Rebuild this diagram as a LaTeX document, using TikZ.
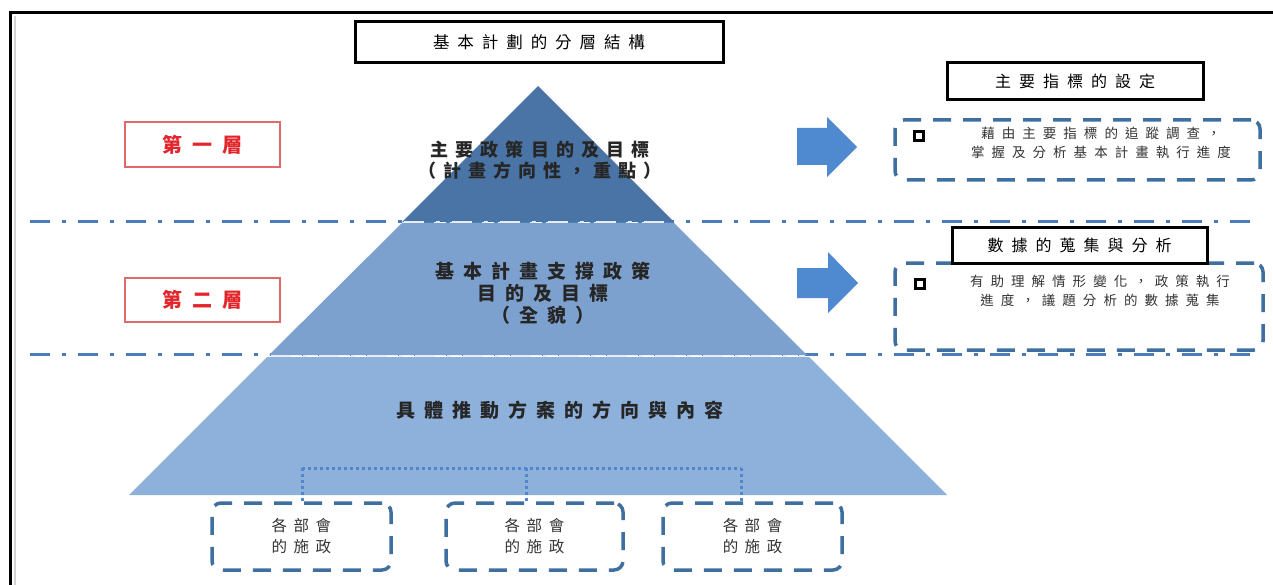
\documentclass[tikz,border=0pt]{standalone}
\usepackage{fontspec}
\newfontfamily\cjk{Noto Sans CJK TC}
\definecolor{pyrTop}{HTML}{4A74A6}
\definecolor{pyrMid}{HTML}{7DA1CE}
\definecolor{pyrBot}{HTML}{8EB1DC}
\definecolor{lineblue}{HTML}{4A7EBB}
\definecolor{dotblue}{HTML}{4F86CC}
\definecolor{dashblue}{HTML}{3F6F9F}
\definecolor{arrowblue}{HTML}{4F89CF}
\definecolor{layerred}{HTML}{E3262B}
\definecolor{layerborder}{HTML}{E06A6A}
\newcommand\cjkfont[3]{\cjk\fontsize{#1}{#2}\selectfont\addfontfeature{LetterSpace=#3}}
\newcommand\cjkbold[3]{\cjk\fontsize{#1}{#2}\selectfont\bfseries\addfontfeature{LetterSpace=#3}}
\begin{document}
\begin{tikzpicture}[x=1pt,y=-1pt,
  blackbox/.style={draw=black, line width=3pt, fill=white, inner sep=0pt},
  layerbox/.style={draw=layerborder, line width=1.2pt, fill=white, inner sep=0pt,
    minimum width=155pt, text=layerred, font=\cjkbold{20}{24}{50}},
  pyrtext/.style={align=center, text=black!85, inner sep=0pt},
  dashbox/.style={draw=dashblue, line width=3.5pt, dash pattern=on 18pt off 12pt,
    rounded corners=9pt, inner sep=0pt},
  sqmark/.style={draw=black, line width=2.5pt, minimum size=9pt, inner sep=0pt},
  smalltext/.style={align=center, inner sep=0pt, text=black!80, font=\cjkfont{13.5}{19}{52}},
  dashdot/.style={draw=lineblue, line width=3pt, dash pattern=on 20pt off 12pt on 4pt off 12pt},
  dashdotw/.style={draw=white!85!lineblue, line width=2pt, dash pattern=on 20pt off 12pt on 4pt off 12pt},
  dotline/.style={draw=dotblue, line width=3pt, dash pattern=on 3pt off 3pt},
  blockarrow/.style={fill=arrowblue}
]
\useasboundingbox (0,0) rectangle (1273,585);
\fill[white] (0,0) rectangle (1273,585);

% frame
\draw[line width=3pt] (1273,13) -- (10,13) -- (10,585);
\draw[gray!35, line width=2pt] (14.5,16) -- (14.5,585);

% dash-dot separators
\draw[dashdot] (30,222) -- (1250,222);
\draw[dashdot] (30,354) -- (1250,354);

% pyramid
\fill[pyrTop] (538,86) -- (674,222) -- (402,222) -- cycle;
\fill[pyrMid] (402,223) -- (674,223) -- (807,355) -- (269,355) -- cycle;
\fill[pyrBot] (267,357) -- (809,357) -- (947,495) -- (129,495) -- cycle;
\draw[dashdotw] (404,222) -- (672,222);
\draw[dashdotw] (271,355.5) -- (805,355.5);

% title
\node[blackbox, minimum width=368pt, minimum height=41pt, font=\cjkfont{16.5}{20}{48}]
  (title) at (539,42.5) {基本計劃的分層結構};

% layer labels
\node[layerbox, minimum height=45pt] (L1) at (202.5,144.5) {第一層};
\node[layerbox, minimum height=44pt] (L2) at (202.5,300) {第二層};

% pyramid texts
\node[pyrtext, font=\cjkbold{18}{21}{39}] (p1) at (540,160)
  {主要政策目的及目標\\（計畫方向性，重點）};
\node[pyrtext, font=\cjkbold{19}{22}{47}] (p2) at (543,293.5)
  {基本計畫支撐政策\\目的及目標\\（全貌）};
\node[pyrtext, font=\cjkbold{19}{22}{47}] (p3) at (560,410)
  {具體推動方案的方向與內容};

% block arrows
\fill[blockarrow] (797,128) -- (827,128) -- (827,117) -- (857,147) -- (827,177)
  -- (827,165) -- (797,165) -- cycle;
\fill[blockarrow] (797,268) -- (828,268) -- (828,252) -- (858,283) -- (828,313)
  -- (828,298) -- (797,298) -- cycle;

% right side, first layer
\node[dashbox, minimum width=365pt, minimum height=60pt] (d1) at (1077.5,150) {};
\node[sqmark] (s1) at (919,136) {};
\node[smalltext] (x1) at (1101,143)
  {藉由主要指標的追蹤調查，\\掌握及分析基本計畫執行進度};
\node[blackbox, minimum width=256pt, minimum height=37pt, font=\cjkfont{16}{19}{50}]
  (t1) at (1075,81.5) {主要指標的設定};

% right side, second layer
\node[dashbox, minimum width=368pt, minimum height=87pt] (d2) at (1079,306.5) {};
\node[blackbox, minimum width=255pt, minimum height=35pt, font=\cjkfont{16}{19}{50}]
  (t2) at (1079.5,245.5) {數據的蒐集與分析};
\node[sqmark] (s2) at (920,284) {};
\node[smalltext] (x2) at (1100,291)
  {有助理解情形變化，政策執行\\進度，議題分析的數據蒐集};

% bottom boxes
\node[dashbox, minimum width=179pt, minimum height=67pt, align=center,
  font=\cjkfont{15.5}{21}{42}, text=black!80] (b1) at (301.5,536.5) {各部會\\的施政};
\node[dashbox, minimum width=177pt, minimum height=67pt, align=center,
  font=\cjkfont{15.5}{21}{42}, text=black!80] (b2) at (534.5,536.5) {各部會\\的施政};
\node[dashbox, minimum width=179pt, minimum height=67pt, align=center,
  font=\cjkfont{15.5}{21}{42}, text=black!80] (b3) at (752.5,536.5) {各部會\\的施政};

% dotted connectors
\coordinate (j1) at (302,468);
\coordinate (j2) at (526,468);
\coordinate (j3) at (741,468);
\draw[dotline] (j1) -- (j3);
\draw[dotline] (j1) -- (j1 |- b1.north);
\draw[dotline] (j2) -- (j2 |- b2.north);
\draw[dotline] (j3) -- (j3 |- b3.north);
\end{tikzpicture}
\end{document}
